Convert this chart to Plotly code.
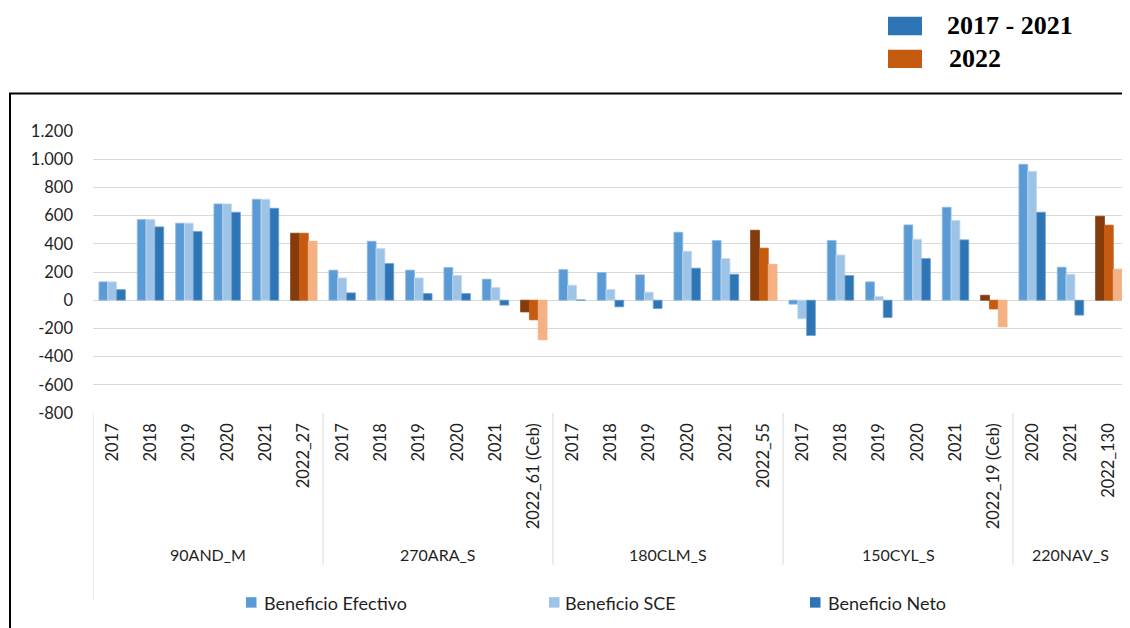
import plotly.graph_objects as go

# ---------------- data ----------------
groups = ["90AND_M", "270ARA_S", "180CLM_S", "150CYL_S", "220NAV_S"]
group_cats = [
    ["2017", "2018", "2019", "2020", "2021", "2022_27"],
    ["2017", "2018", "2019", "2020", "2021", "2022_61 (Ceb)"],
    ["2017", "2018", "2019", "2020", "2021", "2022_55"],
    ["2017", "2018", "2019", "2020", "2021", "2022_19 (Ceb)"],
    ["2020", "2021", "2022_130"],
]
series_names = ["Beneficio Efectivo", "Beneficio SCE", "Beneficio Neto"]

efectivo = [130, 572, 546, 683, 716, 475,
            213, 418, 213, 232, 149, -83,
            217, 196, 180, 482, 423, 496,
            -28, 423, 130, 534, 659, 35,
            964, 234, 595]
sce = [130, 572, 546, 683, 716, 475,
       158, 366, 158, 175, 90, -139,
       106, 76, 57, 347, 295, 369,
       -132, 321, 26, 432, 565, -62,
       914, 184, 532]
neto = [75, 520, 487, 624, 652, 418,
        52, 260, 47, 47, -35, -281,
        2, -47, -59, 227, 184, 255,
        -250, 175, -123, 295, 428, -189,
        624, -106, 220]

y_tick_vals = [-800, -600, -400, -200, 0, 200, 400, 600, 800, 1000, 1200]
y_tick_text = ["-800", "-600", "-400", "-200", "0", "200", "400", "600", "800", "1.000", "1.200"]

top_legend_labels = ["2017 - 2021", "2022"]

# ---------------- styling ----------------
blue_cols = ["#5B9BD5", "#9DC3E6", "#2E75B6"]
orange_cols = ["#843C0C", "#C55A11", "#F4B183"]
blue_edges = ["#8DB9E4", "#C3DBF0", "#6E9FCF"]
FONT = "Lato"
TXT = "#1f1f1f"

# page geometry (browser body has an 8px margin)
OFF = 8
PAGE_W, PAGE_H = 1130, 628
W, H = PAGE_W - OFF, PAGE_H - OFF
L, R, T, B = 93, 1128, 130.5, 413   # plot area in page pixels


def px(x):
    return (x - L) / (R - L)


def py(y):
    return (B - y) / (B - T)


cat_labels = [c for g in group_cats for c in g]
xpos = list(range(len(cat_labels)))
is22 = [c.startswith("2022") for c in cat_labels]

fig = go.Figure()
for i, (name, vals) in enumerate(zip(series_names, [efectivo, sce, neto])):
    colors = [orange_cols[i] if f else blue_cols[i] for f in is22]
    edges = [orange_cols[i] if f else blue_edges[i] for f in is22]
    fig.add_trace(go.Bar(
        x=xpos, y=vals, name=name, showlegend=False,
        marker=dict(color=colors, line=dict(color=edges, width=0.8)),
    ))

shapes = []
annotations = []

# category box lines
bounds = []
idx = 0
for g in group_cats:
    bounds.append(idx - 0.5)
    idx += len(g)
bounds.append(idx - 0.5)
for k, b in enumerate(bounds):
    bottom = 600 if k in (0, len(bounds) - 1) else 565
    shapes.append(dict(type="line", xref="x", yref="paper", x0=b, x1=b,
                       y0=py(bottom), y1=0, line=dict(color="#D9D9D9", width=1)))

# group labels
for k, gname in enumerate(groups):
    c = (bounds[k] + bounds[k + 1]) / 2
    annotations.append(dict(x=c, xref="x", y=py(555), yref="paper", text=gname,
                            showarrow=False, xanchor="center", yanchor="middle",
                            font=dict(family=FONT, size=16, color=TXT)))

# outer black border
shapes.append(dict(type="rect", xref="paper", yref="paper",
                   x0=px(10), x1=px(1200), y0=py(700), y1=py(93),
                   line=dict(color="black", width=2), fillcolor="rgba(0,0,0,0)"))

# bottom legend
leg_pos = [(246, 262), (549, 563), (810, 826)]
for (mx, tx), name, col in zip(leg_pos, series_names, blue_cols):
    shapes.append(dict(type="rect", xref="paper", yref="paper",
                       x0=px(mx), x1=px(mx + 10.5), y0=py(608), y1=py(597.5),
                       line=dict(width=0), fillcolor=col))
    annotations.append(dict(x=px(tx), xref="paper", y=py(603), yref="paper", text=name,
                            showarrow=False, xanchor="left", yanchor="middle",
                            font=dict(family=FONT, size=18, color=TXT)))

# top legend
top_rects = [(16, 34.5, "#2E75B6"), (49, 67.5, "#C55A11")]
top_text = [(945, 25), (947, 58)]
for (y0, y1, col), (tx, ty), lab in zip(top_rects, top_text, top_legend_labels):
    shapes.append(dict(type="rect", xref="paper", yref="paper",
                       x0=px(888), x1=px(922), y0=py(y1), y1=py(y0),
                       line=dict(width=0), fillcolor=col))
    annotations.append(dict(x=px(tx), xref="paper", y=py(ty), yref="paper", text="<b>" + lab + "</b>",
                            showarrow=False, xanchor="left", yanchor="middle",
                            font=dict(family="Liberation Serif", size=26, color="black")))

fig.update_layout(
    width=W, height=H,
    margin=dict(l=L - OFF, r=PAGE_W - R, t=T - OFF, b=PAGE_H - B, pad=0),
    paper_bgcolor="white", plot_bgcolor="white",
    barmode="group", bargap=0.31, bargroupgap=0,
    shapes=shapes, annotations=annotations,
    showlegend=False,
    xaxis=dict(range=[-0.5, len(cat_labels) - 0.5], tickmode="array",
               tickvals=xpos, ticktext=cat_labels, tickangle=-90,
               ticks="", showgrid=False, zeroline=False, showline=False,
               ticklabelstandoff=6,
               tickfont=dict(family=FONT, size=16.5, color=TXT)),
    yaxis=dict(range=[-800, 1200], tickmode="array", tickvals=y_tick_vals,
               ticktext=y_tick_text, showgrid=True, gridcolor="#D9D9D9", gridwidth=1,
               zeroline=True, zerolinecolor="#D9D9D9", zerolinewidth=1,
               showline=False, ticks="", ticklabelstandoff=19,
               tickfont=dict(family=FONT, size=16.5, color=TXT)),
)

fig.write_html("out.html")
